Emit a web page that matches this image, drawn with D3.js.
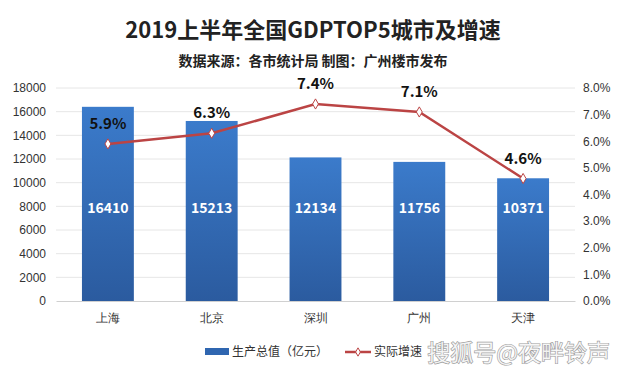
<!DOCTYPE html>
<html>
<head>
<meta charset="utf-8">
<script src="https://cdn.jsdelivr.net/npm/d3@7"></script>
<style>
  body { margin: 0; background: #fff; }
  svg { font-family: "Microsoft YaHei", "Noto Sans CJK SC", "Noto Sans", sans-serif; }
</style>
</head>
<body>
<div id="chart"></div>
<script>
// chart data
const cities = ['上海', '北京', '深圳', '广州', '天津'];
const gdp = [16410, 15213, 12134, 11756, 10371];
const growth = [5.9, 6.3, 7.4, 7.1, 4.6];
const leftTicks = [0, 2000, 4000, 6000, 8000, 10000, 12000, 14000, 16000, 18000];
const rightTicks = [0, 1, 2, 3, 4, 5, 6, 7, 8];

const W = 622, H = 373;
const margin = { top: 88, right: 47, bottom: 72, left: 56 };
const width = W - margin.left - margin.right;
const height = H - margin.top - margin.bottom;

const svg = d3.select('#chart').append('svg')
  .attr('width', W).attr('height', H);

// gradient for bars
const defs = svg.append('defs');
const grad = defs.append('linearGradient')
  .attr('id', 'barGrad').attr('x1', 0).attr('y1', 0).attr('x2', 0).attr('y2', 1);
grad.append('stop').attr('offset', '0%').attr('stop-color', '#3b7bcb');
grad.append('stop').attr('offset', '100%').attr('stop-color', '#2b5b9f');

// titles
svg.append('text')
  .attr('x', 313).attr('y', 38)
  .attr('text-anchor', 'middle')
  .style('font-size', '22px').style('font-weight', 'bold').attr('fill', '#222')
  .text('2019上半年全国GDPTOP5城市及增速');

svg.append('text')
  .attr('x', 313).attr('y', 66)
  .attr('text-anchor', 'middle')
  .style('font-size', '14px').style('font-weight', 'bold').attr('fill', '#222')
  .text('数据来源：各市统计局 制图：广州楼市发布');

const g = svg.append('g').attr('transform', `translate(${margin.left},${margin.top})`);

const x = d3.scaleBand().domain(cities).range([0, width]).paddingInner(0.5).paddingOuter(0.25);
const y = d3.scaleLinear().domain([0, 18000]).range([height, 0]);
const y2 = d3.scaleLinear().domain([0, 8]).range([height, 0]);

// gridlines
g.selectAll('.grid').data(leftTicks.slice(1)).enter().append('line')
  .attr('x1', 0).attr('x2', width)
  .attr('y1', d => y(d)).attr('y2', d => y(d))
  .attr('stroke', '#e6e6e6').attr('stroke-width', 1);

// left axis
const yAxis = g.append('g')
  .call(d3.axisLeft(y).tickValues(leftTicks).tickSize(0).tickPadding(10).tickFormat(d3.format('d')));
yAxis.select('.domain').remove();
yAxis.selectAll('text').style('font-size', '12px').attr('fill', '#333');

// right axis
const yAxis2 = g.append('g').attr('transform', `translate(${width},0)`)
  .call(d3.axisRight(y2).tickValues(rightTicks).tickSize(0).tickPadding(8)
    .tickFormat(d => d.toFixed(1) + '%'));
yAxis2.select('.domain').remove();
yAxis2.selectAll('text').style('font-size', '12px').attr('fill', '#333');

// bars
g.selectAll('.bar').data(cities).enter().append('rect')
  .attr('x', d => x(d))
  .attr('y', (d, i) => y(gdp[i]))
  .attr('width', x.bandwidth())
  .attr('height', (d, i) => height - y(gdp[i]))
  .attr('fill', 'url(#barGrad)');

// bar value labels
g.selectAll('.barLabel').data(cities).enter().append('text')
  .attr('x', d => x(d) + x.bandwidth() / 2)
  .attr('y', y(7400))
  .attr('text-anchor', 'middle')
  .style('font-size', '14px').style('font-weight', 'bold').attr('fill', '#fff')
  .text((d, i) => gdp[i]);

// x axis
const xAxis = g.append('g').attr('transform', `translate(0,${height})`)
  .call(d3.axisBottom(x).tickSize(0).tickPadding(12));
xAxis.select('.domain').attr('stroke', '#d0d0d0');
xAxis.selectAll('text').style('font-size', '12px').attr('fill', '#333');

// growth line
const line = d3.line()
  .x((d, i) => x(cities[i]) + x.bandwidth() / 2)
  .y(d => y2(d));

g.append('path').datum(growth)
  .attr('d', line)
  .attr('fill', 'none')
  .attr('stroke', '#bb4444').attr('stroke-width', 2.5);

g.selectAll('.marker').data(growth).enter().append('path')
  .attr('d', d3.symbol().type(d3.symbolDiamond).size(30))
  .attr('transform', (d, i) => `translate(${x(cities[i]) + x.bandwidth() / 2},${y2(d)})`)
  .attr('fill', '#fff').attr('stroke', '#bb4444').attr('stroke-width', 1);

g.selectAll('.pctLabel').data(growth).enter().append('text')
  .attr('x', (d, i) => x(cities[i]) + x.bandwidth() / 2)
  .attr('y', d => y2(d) - 15)
  .attr('text-anchor', 'middle')
  .style('font-size', '15px').style('font-weight', 'bold').attr('fill', '#111')
  .text(d => d.toFixed(1) + '%');

// legend
const legend = svg.append('g').attr('transform', 'translate(0,352)');
legend.append('rect')
  .attr('x', 205).attr('y', -4).attr('width', 24).attr('height', 7)
  .attr('fill', '#2f66b0');
legend.append('text')
  .attr('x', 232).attr('y', 4)
  .style('font-size', '12px').attr('fill', '#333')
  .text('生产总值（亿元）');
legend.append('line')
  .attr('x1', 345).attr('x2', 371).attr('y1', 0).attr('y2', 0)
  .attr('stroke', '#bb4444').attr('stroke-width', 2.5);
legend.append('path')
  .attr('d', d3.symbol().type(d3.symbolDiamond).size(20))
  .attr('transform', 'translate(358,0)')
  .attr('fill', '#fff').attr('stroke', '#bb4444');
legend.append('text')
  .attr('x', 374).attr('y', 4)
  .style('font-size', '12px').attr('fill', '#333')
  .text('实际增速');

// watermark
svg.append('text')
  .attr('x', 610).attr('y', 361)
  .attr('text-anchor', 'end')
  .style('font-size', '23px')
  .attr('fill', '#fff').attr('fill-opacity', 0.85)
  .attr('stroke', '#9a9a9a').attr('stroke-width', 1.2).attr('paint-order', 'stroke')
  .text('搜狐号@夜畔铃声');
</script>
</body>
</html>
